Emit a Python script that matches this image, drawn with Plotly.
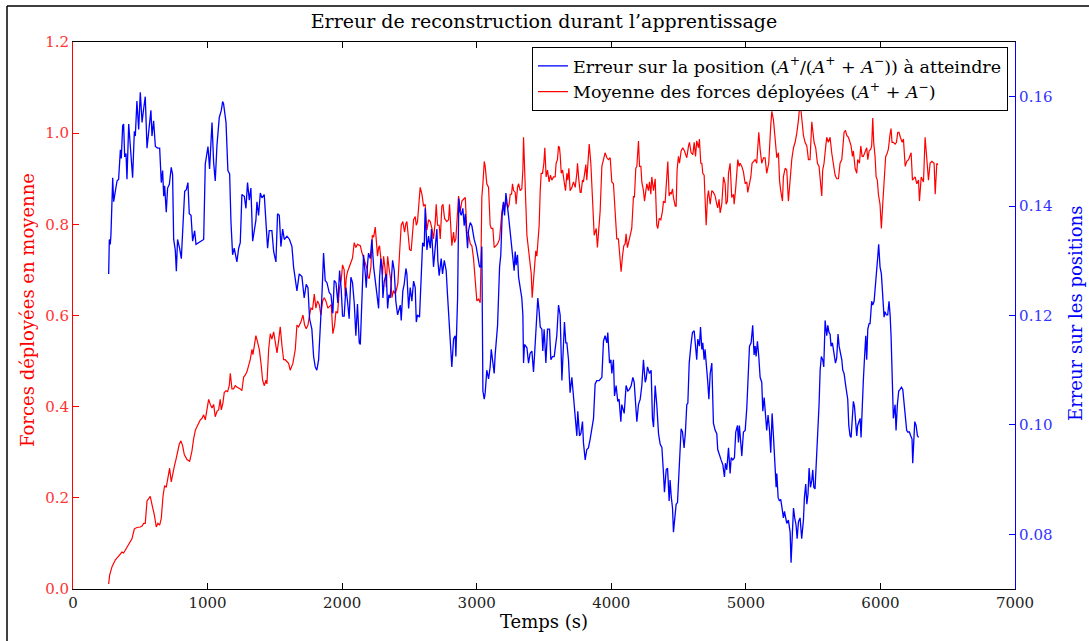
import plotly.graph_objects as go

# ---------------- data ----------------
blue_t = [265, 270, 277, 282, 290, 295, 302, 314, 327, 339, 352, 359, 369, 376, 384, 394, 401, 414, 426, 443,
          456, 463, 475, 488, 500, 513, 525, 537, 550, 562, 579, 587, 599, 612, 629, 644, 656, 666, 674, 681,
          693, 703, 716, 730, 740, 748, 760, 768, 777, 792, 805, 817, 830, 842, 854, 864, 877, 889, 904, 914,
          934, 958, 971, 983, 1003, 1015, 1025, 1033, 1045, 1057, 1070, 1087, 1102, 1112, 1119, 1137, 1151, 1164, 1174, 1186,
          1198, 1218, 1231, 1243, 1255, 1273, 1285, 1297, 1310, 1322, 1335, 1347, 1359, 1367, 1379, 1392, 1404, 1421, 1434, 1446,
          1458, 1478, 1491, 1508, 1520, 1533, 1545, 1558, 1570, 1590, 1609, 1627, 1639, 1652, 1664, 1681, 1701, 1718, 1733, 1746,
          1758, 1775, 1788, 1800, 1812, 1825, 1837, 1850, 1862, 1874, 1887, 1904, 1917, 1931, 1941, 1954, 1968, 1981, 1993, 2003,
          2015, 2028, 2040, 2052, 2065, 2077, 2090, 2102, 2114, 2127,
          2135, 2147, 2159, 2172, 2179, 2189, 2196, 2209, 2221, 2234, 2246, 2258, 2271, 2278, 2288, 2296, 2303, 2313, 2328, 2338,
          2347, 2357, 2365, 2375, 2387, 2399, 2412, 2419, 2432, 2439, 2451, 2461, 2474, 2481, 2494, 2506, 2518, 2531, 2543, 2551,
          2560, 2575, 2588, 2598, 2610, 2617, 2630, 2642, 2655, 2664, 2679, 2692, 2704, 2711, 2721, 2736, 2746, 2759, 2773, 2783,
          2791, 2798, 2808, 2815, 2828, 2840, 2845, 2858, 2867, 2877, 2885, 2897, 2907, 2915, 2922, 2932, 2939, 2952, 2964, 2981,
          2996, 3009, 3021, 3031, 3038, 3046, 3056, 3063, 3075, 3088, 3100, 3108, 3120, 3130, 3137, 3150, 3155, 3162, 3170, 3179,
          3189, 3199, 3207, 3217, 3229, 3236, 3249, 3261, 3269, 3278, 3286, 3293, 3303, 3311, 3323, 3335, 3343, 3348, 3355, 3365,
          3373, 3385, 3397, 3410, 3422, 3429, 3439, 3447, 3454, 3464, 3472, 3484, 3491, 3501, 3514, 3526, 3541, 3551, 3563, 3576,
          3588, 3595, 3608, 3620, 3633, 3645, 3652, 3662, 3670, 3682, 3694, 3707, 3719, 3732, 3744, 3751, 3764, 3774, 3786, 3793,
          3806, 3818, 3830, 3843, 3855, 3868, 3880, 3892, 3910, 3930, 3942, 3954, 3967, 3974, 3987, 3997, 4004, 4016, 4024, 4036,
          4048, 4058, 4071, 4078, 4096, 4110, 4123, 4135, 4148, 4160, 4170, 4182, 4190, 4202,
          4215, 4227, 4239, 4252, 4259, 4269, 4284, 4296, 4306, 4314, 4326, 4338, 4351, 4363, 4376, 4388, 4395, 4408, 4418, 4430,
          4437, 4445, 4455, 4462, 4470, 4482, 4492, 4502, 4512, 4519, 4529, 4541, 4551, 4561, 4569, 4579, 4591, 4603, 4616, 4623,
          4635, 4643, 4655, 4663, 4673, 4680, 4690, 4697, 4705, 4717, 4725, 4735, 4747, 4759, 4772, 4784, 4791, 4804, 4816, 4829,
          4841, 4848, 4858, 4871, 4883, 4891, 4903, 4915, 4925, 4938, 4945, 4952, 4962, 4970, 4982, 4995, 5007, 5019, 5027, 5039,
          5051, 5061, 5069, 5076, 5086, 5096, 5106, 5118, 5126, 5136, 5143, 5155, 5165, 5175, 5185, 5195, 5205, 5217, 5225, 5230,
          5240, 5250, 5259, 5269, 5279, 5287, 5297, 5304, 5316, 5329, 5336, 5346, 5354, 5363, 5373, 5381, 5391, 5403, 5415, 5428,
          5435, 5445, 5453, 5462, 5470, 5480, 5490, 5497, 5505, 5514, 5522, 5532, 5544, 5552, 5561, 5571, 5579, 5589, 5601, 5609,
          5618, 5626, 5633, 5643, 5656, 5666, 5675, 5685, 5693, 5703, 5713, 5720, 5730, 5740, 5750, 5757, 5765, 5774, 5782, 5792,
          5799, 5807, 5814, 5824, 5831, 5839, 5849, 5856, 5864, 5873, 5881, 5891, 5898, 5906, 5916, 5923, 5935, 5943, 5953, 5963,
          5973, 5980, 5987, 5997, 6007, 6017, 6027, 6034, 6044, 6054, 6064, 6072, 6079, 6089, 6096, 6109, 6116, 6126, 6136, 6146,
          6156, 6166, 6178, 6188, 6195, 6203, 6215, 6225, 6235, 6240, 6250, 6255, 6265, 6275, 6284]

blue_err = [.1276, .1339, .1330, .1348, .1411, .1452, .1408, .1430, .1446, .1449, .1503, .1487, .1547, .1550, .1490, .1496, .1449, .1550, .1509, .1452,
            .1537, .1528, .1592, .1540, .1608, .1553, .1578, .1600, .1506, .1540, .1575, .1528, .1556, .1509, .1506, .1506, .1443, .1465, .1418, .1437,
            .1389, .1433, .1440, .1471, .1458, .1339, .1320, .1281, .1339, .1323, .1304, .1364, .1427, .1430, .1443, .1386, .1383, .1336, .1355, .1330,
            .1333, .1338, .1339, .1477, .1509, .1468, .1512, .1553, .1480, .1446, .1512, .1562, .1575, .1591, .1587, .1553, .1465, .1459, .1370, .1311,
            .1323, .1298, .1323, .1333, .1421, .1418, .1396, .1443, .1411, .1433, .1336, .1352, .1374, .1408, .1383, .1424, .1415, .1421, .1374, .1323,
            .1355, .1355, .1317, .1298, .1386, .1383, .1326, .1358, .1339, .1345, .1339, .1326, .1289, .1264, .1245, .1276, .1271, .1232, .1257, .1251,
            .1194, .1175, .1125, .1106, .1100, .1119, .1166, .1238, .1314, .1264, .1260, .1242, .1238, .1204, .1264, .1260, .1223, .1282, .1248, .1199,
            .1199, .1251, .1226, .1194, .1270, .1260, .1223, .1163, .1221, .1150,
            .1147, .1226, .1311, .1276, .1251, .1295, .1314, .1304, .1339, .1289, .1263, .1248, .1213, .1270, .1304, .1289, .1232, .1263, .1276, .1213,
            .1238, .1232, .1263, .1301, .1282, .1226, .1201, .1207, .1219, .1191, .1245, .1257, .1286, .1276, .1213, .1251, .1226, .1263, .1251, .1188,
            .1201, .1197, .1267, .1333, .1326, .1396, .1320, .1345, .1323, .1358, .1289, .1326, .1358, .1301, .1273, .1304, .1276, .1301, .1282, .1238,
            .1201, .1163, .1119, .1106, .1157, .1163, .1125, .1232, .1414, .1389, .1383, .1396, .1364, .1386, .1358, .1323, .1355, .1370, .1364, .1339,
            .1326, .1308, .1289, .1289, .1326, .1062, .1047, .1059, .1100, .1084, .1106, .1138, .1113, .1094, .1128, .1175, .1182, .1232, .1289, .1311,
            .1383, .1408, .1383, .1424, .1389, .1383, .1352, .1323, .1304, .1282, .1317, .1292, .1311, .1270, .1251, .1232, .1201, .1113, .1147, .1144,
            .1141, .1113, .1131, .1135, .1097, .1125, .1166, .1213, .1232, .1207, .1179, .1175, .1135, .1175, .1113, .1175, .1175, .1119, .1125, .1125,
            .1144, .1163, .1219, .1201, .1081, .1157, .1188, .1150, .1150, .1119, .1059, .1087, .1050, .1025, .0980, .1025, .0980, .0984, .1006, .0968,
            .0936, .0955, .0958, .0974, .0993, .1012, .1075, .1081, .1081, .1087, .1153, .1163, .1150, .1169, .1113, .1119, .1094, .1119, .1053, .1072,
            .1043, .1047, .1006, .1037, .1021, .1072, .1062, .1065, .1072, .1087, .1078, .1028, .1006, .1037,
            .1047, .1072, .1119, .1078, .1084, .1106, .1094, .1100, .1012, .0996, .1072, .1037, .0984, .0965, .0959, .0911, .0877, .0918, .0921, .0861,
            .0899, .0870, .0848, .0804, .0830, .0855, .0858, .0911, .0955, .0993, .0987, .0958, .0987, .1037, .1040, .1113, .1144, .1169, .1172, .1150,
            .1119, .1157, .1144, .1179, .1138, .1150, .1119, .1138, .1119, .1078, .1047, .1094, .1113, .1003, .0990, .0984, .0955, .0943, .0936, .0927,
            .0905, .0930, .0918, .0958, .0911, .0940, .0936, .0940, .0987, .0999, .0968, .0999, .0962, .0943, .0987, .0990, .1031, .1097, .1144, .1150,
            .1182, .1128, .1144, .1125, .1153, .1125, .1087, .1078, .1025, .1050, .1025, .0990, .1018, .0993, .0949, .1021, .0980, .0924, .0886, .0911,
            .0867, .0861, .0864, .0848, .0830, .0842, .0823, .0820, .0826, .0804, .0748, .0792, .0848, .0830, .0817, .0792, .0823, .0830, .0792, .0826,
            .0867, .0892, .0855, .0874, .0921, .0886, .0899, .0918, .0886, .0883, .0918, .0962, .1037, .1100, .1125, .1119, .1106, .1191, .1163, .1182,
            .1169, .1166, .1144, .1150, .1125, .1113, .1122, .1166, .1144, .1131, .1119, .1100, .1094, .1075, .1056, .1047, .0999, .0980, .0977, .1009,
            .1043, .1034, .1009, .0980, .0999, .1006, .1012, .0977, .1040, .1081, .1119, .1163, .1119, .1175, .1185, .1185, .1226, .1219, .1226, .1251,
            .1289, .1307, .1330, .1289, .1276, .1226, .1197, .1207, .1201, .1201, .1226, .1201, .1163, .1075, .1012, .1037, .0990, .1037, .1062, .1065,
            .1069, .1065, .1037, .1006, .0990, .0987, .0987, .0980, .0974, .0930, .0974, .1006, .0999, .0980, .0977]

red_t = [265, 272, 290, 315, 339, 364, 376, 401, 426, 438, 456, 475, 500, 513, 525, 537, 550, 562, 574, 587,
         604, 619, 631, 644, 656, 669, 681, 693, 706, 718, 730, 740, 753, 765, 778, 790, 802, 815, 827, 847,
         867, 884, 896, 909, 921, 934, 946, 958, 971, 983, 995, 1008, 1020, 1033, 1045, 1057, 1070, 1082, 1094, 1102,
         1114, 1124, 1137, 1149, 1161, 1169, 1181, 1193, 1206, 1218, 1243, 1255, 1268, 1280, 1293, 1305, 1317, 1330, 1337, 1347,
         1359, 1372, 1384, 1397, 1409, 1421, 1434, 1441, 1454, 1466, 1478, 1491, 1503, 1516, 1528, 1540, 1553, 1565, 1577, 1590,
         1602, 1614, 1622, 1634, 1652, 1664, 1676, 1694, 1709, 1721, 1733, 1746, 1758, 1768, 1780, 1793, 1805, 1817, 1830, 1842,
         1855, 1867, 1879, 1894, 1907, 1919, 1931, 1944, 1954, 1966, 1981, 1993, 2003, 2015, 2023, 2030, 2040, 2052, 2065, 2077,
         2090, 2102, 2114, 2127,
         2135, 2147, 2159, 2172, 2184, 2192, 2201, 2214, 2224, 2234, 2246, 2253, 2263, 2271, 2278, 2288, 2300, 2308, 2320, 2328,
         2338, 2350, 2362, 2370, 2382, 2395, 2407, 2414, 2427, 2439, 2451, 2464, 2474, 2481, 2491, 2501, 2513, 2518, 2531, 2543,
         2551, 2560, 2568, 2580, 2593, 2605, 2617, 2630, 2642, 2655, 2667, 2679, 2692, 2699, 2709, 2721, 2729, 2741, 2749, 2761,
         2778, 2791, 2798, 2808, 2815, 2828, 2835, 2845, 2853, 2865, 2877, 2890, 2902, 2915, 2927, 2939, 2952, 2964, 2976, 2989,
         3001, 3014, 3026, 3031, 3038, 3046, 3056, 3063, 3075, 3088, 3100, 3108, 3120, 3130, 3142, 3155, 3170, 3179, 3187, 3199,
         3207, 3217, 3224, 3231, 3241, 3249, 3259, 3266, 3274, 3286, 3293, 3303, 3311, 3323, 3335, 3343, 3348, 3355, 3365, 3373,
         3385, 3397, 3405, 3412, 3422, 3429, 3439, 3447, 3454, 3464, 3472, 3479, 3489, 3499, 3506, 3516, 3526, 3538, 3548, 3558,
         3571, 3583, 3590, 3600, 3608, 3615, 3620, 3628, 3638, 3645, 3652, 3660, 3670, 3677, 3685, 3694, 3707, 3719, 3732, 3744,
         3749, 3759, 3769, 3776, 3786, 3793, 3801, 3811, 3818, 3826, 3836, 3848, 3863, 3873, 3880, 3888, 3897, 3907, 3917, 3930,
         3942, 3954, 3967, 3979, 3992, 4004, 4016, 4029, 4041, 4053, 4066, 4073, 4083, 4093, 4103, 4110, 4120, 4133, 4140, 4152,
         4165, 4172, 4182, 4190, 4202,
         4210, 4220, 4227, 4239, 4247, 4257, 4264, 4276, 4284, 4294, 4301, 4314, 4326, 4338, 4346, 4356, 4368, 4380, 4388, 4400,
         4413, 4420, 4430, 4437, 4445, 4455, 4462, 4475, 4482, 4489, 4499, 4507, 4519, 4531, 4544, 4554, 4561, 4574, 4581, 4593,
         4606, 4616, 4626, 4635, 4648, 4655, 4665, 4673, 4680, 4690, 4697, 4705, 4715, 4722, 4735, 4747, 4759, 4772, 4784, 4791,
         4801, 4809, 4821, 4834, 4846, 4853, 4863, 4871, 4883, 4895, 4908, 4913, 4925, 4933, 4940, 4950, 4957, 4970, 4982, 4995,
         5007, 5014, 5027, 5037, 5046, 5056, 5069, 5081, 5089, 5096, 5106, 5118, 5131, 5143, 5155, 5170, 5185, 5193, 5205, 5217,
         5230, 5242, 5250, 5259, 5272, 5279, 5292, 5304, 5316, 5329, 5341, 5354, 5366, 5378, 5391, 5403, 5415, 5428, 5440, 5453,
         5465, 5477, 5490, 5497, 5507, 5519, 5532, 5544, 5552, 5564, 5571, 5581, 5594, 5601, 5613, 5626, 5638, 5651, 5663, 5675,
         5688, 5700, 5713, 5730, 5740, 5750, 5762, 5774, 5782, 5792, 5799, 5812, 5824, 5831, 5844, 5854, 5864, 5873, 5886, 5898,
         5906, 5916, 5928, 5935, 5943, 5950, 5960, 5968, 5977, 5985, 5997, 6007, 6017, 6027, 6039, 6047, 6059, 6072, 6079, 6086,
         6096, 6109, 6119, 6129, 6138, 6148, 6161, 6171, 6178,
         6184, 6196, 6209, 6228, 6238, 6258, 6270, 6283, 6290, 6303, 6320, 6332, 6345, 6357, 6369, 6382, 6399, 6407, 6419, 6426]

red_force = [.011, .030, .049, .064, .072, .081, .079, .091, .102, .110, .132, .135, .136, .138, .144, .144, .193, .197, .203, .185,
             .163, .136, .144, .140, .155, .204, .227, .223, .250, .265, .235, .253, .269, .284, .299, .318, .325, .314, .295, .284,
             .280, .303, .329, .348, .356, .363, .371, .374, .382, .371, .390, .416, .405, .397, .405, .378, .390, .393, .416, .393,
             .408, .431, .435, .433, .446, .473, .439, .439, .446, .443, .439, .435, .465, .469, .477, .488, .503, .526, .514, .533,
             .556, .541, .526, .495, .458, .446, .458, .450, .526, .560, .548, .564, .541, .518, .545, .575, .533, .503, .503, .499,
             .495, .480, .488, .495, .526, .579, .575, .586, .601, .579, .571, .579, .601, .616, .613, .647, .616, .632, .624, .601,
             .632, .639, .632, .616, .620, .624, .560, .579, .609, .605, .662, .677, .711, .700, .643, .681, .696, .707, .715, .726,
             .760, .749, .756, .753,
             .753, .738, .726, .715, .704, .685, .681, .707, .776, .772, .794, .768, .730, .749, .753, .723, .689, .730, .700, .662,
             .730, .700, .677, .639, .655, .647, .662, .670, .738, .798, .806, .783, .802, .806, .776, .745, .742, .768, .810, .817,
             .798, .806, .844, .881, .866, .840, .844, .787, .810, .806, .791, .768, .806, .844, .798, .798, .768, .840, .844, .813,
             .806, .810, .844, .798, .753, .783, .760, .768, .798, .862, .828, .851, .855, .859, .783, .779, .757, .753, .726, .670,
             .632, .636, .628, .707, .859, .889, .938, .927, .889, .881, .798, .791, .791, .749, .753, .757, .768, .806, .828, .847,
             .836, .851, .844, .836, .844, .866, .866, .889, .874, .870, .844, .881, .889, .874, .878, .919, .991, .904, .844, .776,
             .745, .707, .692, .639, .677, .707, .742, .730, .768, .798, .874, .912, .912, .934, .968, .904, .919, .893, .908, .897,
             .904, .904, .934, .942, .972, .968, .953, .912, .919, .897, .889, .874, .912, .897, .923, .874, .881, .893, .881, .912,
             .934, .897, .870, .870, .897, .893, .908, .931, .897, .934, .976, .934, .851, .776, .783, .791, .749, .783, .828, .927,
             .946, .957, .946, .942, .946, .893, .889, .836, .768, .768, .715, .696, .730, .753, .757, .779, .749, .768, .779, .791,
             .862, .859, .923, .927, .983,
             .927, .927, .893, .874, .851, .874, .889, .874, .893, .866, .904, .874, .900, .798, .791, .813, .810, .828, .851, .847,
             .897, .938, .862, .870, .866, .878, .859, .840, .840, .919, .949, .934, .961, .968, .961, .949, .946, .972, .980, .957,
             .953, .980, .949, .983, .968, .987, .934, .934, .912, .908, .851, .798, .859, .874, .844, .874, .870, .862, .844, .836,
             .855, .825, .844, .904, .889, .844, .851, .912, .934, .859, .866, .844, .881, .912, .942, .927, .934, .927, .915, .889,
             .893, .870, .893, .904, .934, .938, .942, .934, .987, 1.002, .965, .934, .946, .946, .912, .934, 1.017, 1.048, 1.029, .991,
             .946, .957, .897, .874, .851, .904, .923, .919, .851, .897, .942, .968, .980, .999, 1.029, 1.070, 1.025, .995, .980, .972,
             .942, .942, 1.025, 1.002, .980, .968, .934, .927, .904, .862, .919, .934, .972, .991, .980, .991, .957, .934, .908, .900,
             .900, .934, .942, 1.002, 1.006, .995, .991, .980, .972, .949, .961, .923, .912, .942, .934, .972, .949, .949, .957, .968,
             .942, .961, .965, .972, 1.033, .980, .949, .904, .897, .866, .844, .791, .844, .897, .949, .953, .965, .999, 1.010, .980,
             .980, .976, .980, 1.002, 1.002, .991, .980, .987, .953,
             .927, .938, .942, .957, .897, .904, .889, .897, .851, .904, .893, .991, .946, .897, .934, .938, .934, .866, .934, .930]

x_ticks = [0, 1000, 2000, 3000, 4000, 5000, 6000, 7000]
left_ticks = [0.0, 0.2, 0.4, 0.6, 0.8, 1.0, 1.2]
right_ticks = [0.08, 0.10, 0.12, 0.14, 0.16]

title_text = "Erreur de reconstruction durant l\u2019apprentissage"
x_title = "Temps (s)"
left_title = "Forces déployées en moyenne"
right_title = "Erreur sur les positions"
name_blue = ("Erreur sur la position (<i>A</i><sup>+</sup>/(<i>A</i><sup>+</sup> + "
             "<i>A</i><sup>\u2212</sup>)) à atteindre")
name_red = "Moyenne des forces déployées (<i>A</i><sup>+</sup> + <i>A</i><sup>\u2212</sup>)"

# ---------------- figure ----------------
SERIF = "DejaVu Serif"
W, H = 1089, 641
ML, MR, MT, MB = 73, 74, 42, 52
PW, PH = W - ML - MR, H - MT - MB

fig = go.Figure()
fig.add_trace(go.Scatter(x=blue_t, y=blue_err, yaxis="y2", mode="lines",
                         line=dict(color="#0000ff", width=1.3), name=name_blue))
fig.add_trace(go.Scatter(x=red_t, y=red_force, yaxis="y", mode="lines",
                         line=dict(color="#ff0000", width=1.2), name=name_red))

def px_x(p):
    return (p - ML) / PW

def px_y(p):
    return (H - MB - p) / PH

fig.update_layout(
    width=W, height=H,
    margin=dict(l=ML, r=MR, t=MT, b=MB, autoexpand=False),
    paper_bgcolor="white", plot_bgcolor="white",
    font=dict(family=SERIF, size=15, color="black"),
    title=dict(text=title_text, x=0.5, xref="paper", xanchor="center",
               y=1 - 21 / H, yref="container", yanchor="middle",
               font=dict(family=SERIF, size=19, color="black")),
    xaxis=dict(range=[0, 7000], tickvals=x_ticks, ticktext=[str(v) for v in x_ticks],
               ticks="inside", ticklen=6, tickwidth=1, tickcolor="black",
               showline=True, linecolor="black", linewidth=1, mirror="ticks",
               showgrid=False, zeroline=False,
               tickfont=dict(family=SERIF, size=15, color="#222222")),
    yaxis=dict(range=[0, 1.2], tickvals=left_ticks, ticktext=[f"{v:.1f}" for v in left_ticks],
               ticks="inside", ticklen=6, tickwidth=1, tickcolor="#ff0000",
               showline=True, linecolor="#ff0000", linewidth=1,
               showgrid=False, zeroline=False,
               tickfont=dict(family=SERIF, size=15, color="#ff3333")),
    yaxis2=dict(range=[0.07, 0.17], overlaying="y", side="right",
                tickvals=right_ticks, ticktext=[f"{v:.2f}" for v in right_ticks],
                ticks="inside", ticklen=6, tickwidth=1, tickcolor="#0000ff",
                showline=True, linecolor="#0000ff", linewidth=1.2,
                showgrid=False, zeroline=False,
                tickfont=dict(family=SERIF, size=15, color="#3333ff")),
    legend=dict(x=px_x(1008), y=px_y(47), xanchor="right", yanchor="top",
                bgcolor="white", bordercolor="black", borderwidth=1,
                font=dict(family=SERIF, size=17.5, color="black"),
                tracegroupgap=0, itemwidth=30),
    showlegend=True,
)

fig.add_annotation(text=x_title, xref="paper", yref="paper", x=0.5, y=px_y(621),
                   xanchor="center", yanchor="middle", showarrow=False,
                   font=dict(family=SERIF, size=18, color="black"))
fig.add_annotation(text=left_title, xref="paper", yref="paper", x=px_x(27), y=px_y(310),
                   xanchor="center", yanchor="middle", textangle=-90, showarrow=False,
                   font=dict(family=SERIF, size=18, color="#ff0000"))
fig.add_annotation(text=right_title, xref="paper", yref="paper", x=px_x(1075), y=px_y(314),
                   xanchor="center", yanchor="middle", textangle=-90, showarrow=False,
                   font=dict(family=SERIF, size=18, color="#0000ff"))

# outer figure frame (top and left edges visible in the reference)
fig.add_shape(type="line", xref="paper", yref="paper", x0=px_x(7), x1=px_x(W + 5),
              y0=px_y(6), y1=px_y(6), line=dict(color="black", width=1.5))
fig.add_shape(type="line", xref="paper", yref="paper", x0=px_x(7), x1=px_x(7),
              y0=px_y(6), y1=px_y(H + 5), line=dict(color="black", width=1.5))

fig.write_html("out.html", config={"displayModeBar": False},
               post_script="document.body.style.margin='0px';document.body.style.overflow='hidden';")
